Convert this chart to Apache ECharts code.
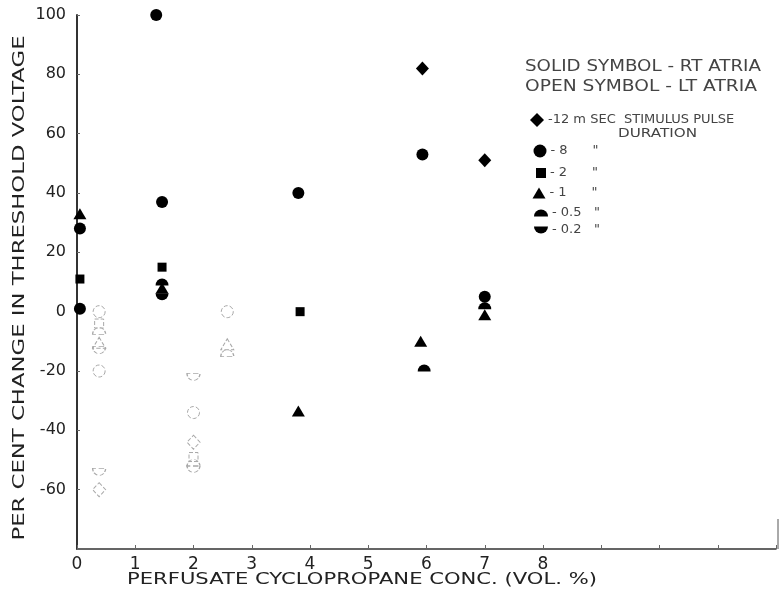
<!DOCTYPE html>
<html><head><meta charset="utf-8">
<script src="https://cdn.jsdelivr.net/npm/echarts@6/dist/echarts.min.js"></script>
<style>html,body{margin:0;padding:0;background:#fff}#c{width:779px;height:598px}</style>
</head><body><div id="c"></div>
<script>
// ---- tick labels ----
const xTickLabels = ['0','1','2','3','4','5','6','7','8'];
const yTickLabels = ['-60','-40','-20','0','20','40','60','80','100'];
// ---- legend / series names ----
const durationNames = ['12 msec','8 msec','2 msec','1 msec','0.5 msec','0.2 msec'];
const legendTexts = ['-12 m SEC  STIMULUS PULSE','- 8      "','- 2      "','- 1      "','- 0.5   "','- 0.2   "'];
// ---- solid symbols: right atria [conc %, % change] ----
const rtDiamond12 = [[5.93, 82], [7.0, 51]];
const rtCircle8   = [[0.05, 28], [0.05, 1], [1.36, 100], [1.46, 37], [3.8, 40], [5.93, 53], [7.0, 5]];
const rtSquare2   = [[0.05, 11], [1.46, 15], [3.83, 0]];
const rtTriangle1 = [[0.05, 33], [1.46, 8], [3.8, -33.5], [5.9, -10], [7.0, -1]];
const rtDome05    = [[1.46, 10], [5.96, -19], [7.0, 2]];
const rtBowl02    = [[1.46, 5]];
// ---- open symbols: left atria ----
const ltDiamond12 = [[0.38, -60], [2.0, -44]];
const ltCircle8   = [[0.38, 0], [0.38, -20], [2.0, -34], [2.58, 0]];
const ltSquare2   = [[0.38, -4], [2.0, -49]];
const ltTriangle1 = [[0.38, -10.5], [2.58, -11]];
const ltDome05    = [[0.38, -6.5], [2.0, -51], [2.58, -14]];
const ltBowl02    = [[0.38, -13], [0.38, -54], [2.0, -22], [2.0, -53]];

const DOME = 'path://M0,10A10,10 0 0 1 20,10Z';
const BOWL = 'path://M0,0A10,10 0 0 0 20,0Z';
const FONT = "'DejaVu Sans', sans-serif";

const shapes = [
  {sym:'diamond', size:[13,14], lsize:[14,14], rt:rtDiamond12, lt:ltDiamond12},
  {sym:'circle', size:12, lsize:[13,13], rt:rtCircle8, lt:ltCircle8},
  {sym:'rect', size:9, lsize:[10,10], rt:rtSquare2, lt:ltSquare2},
  {sym:'triangle', size:[13,11], lsize:[13,11], rt:rtTriangle1, lt:ltTriangle1},
  {sym:DOME, size:[13,7], lsize:[14,7], rt:rtDome05, lt:ltDome05},
  {sym:BOWL, size:[13,7], lsize:[14,7], rt:rtBowl02, lt:ltBowl02}
];
const legendRowY = [120, 151, 173, 193, 213, 230];
const legendRowX = [537, 540, 541, 539, 541, 541];

const series = [];
shapes.forEach((s, i) => {
  series.push({name: durationNames[i], type:'scatter', data: s.rt, symbol: s.sym, symbolSize: s.size,
    itemStyle:{color:'#000', opacity:1}, z:3});
  series.push({name: 'LT ' + durationNames[i], type:'scatter', data: s.lt, symbol: s.sym, symbolSize: s.size,
    itemStyle:{color:'rgba(0,0,0,0)', borderColor:'#a8a8a8', borderWidth:1, borderType:'dashed', opacity:1}, z:2});
});

const legends = shapes.map((s, i) => ({
  data:[durationNames[i]], selectedMode:false, orient:'horizontal',
  left: legendRowX[i] - s.lsize[0]/2, top: legendRowY[i] - 7,
  itemWidth: s.lsize[0], itemHeight: s.lsize[1], itemGap: 0, padding: 0,
  formatter: () => legendTexts[i],
  textStyle:{fontFamily:FONT, fontSize:13, color:'#444', lineHeight:14, padding:[0,0,0,-1]}
}));

function fitScale(text, font, target){
  const c = document.createElement('canvas').getContext('2d');
  c.font = font; return target / c.measureText(text).width;
}
function stretchText(text, cx, cy, target, size, rot, align, fill){
  const font = size + 'px ' + FONT;
  const a = align || 'center';
  return {type:'text', x:cx, y:cy, rotation: rot || 0, scaleX: fitScale(text, font, target), silent:true,
    style:{text:text, font:font, fill: fill || '#222', textAlign:a, align:a, textVerticalAlign:'middle', verticalAlign:'middle'}};
}

const chart = echarts.init(document.getElementById('c'), null, {renderer:'canvas'});
chart.setOption({
  animation:false,
  backgroundColor:'#fff',
  grid:{left:77, right:0, top:15, bottom:49, containLabel:false},
  xAxis:{type:'value', min:0, max:12, interval:1,
    axisLine:{show:true, onZero:false, lineStyle:{color:'#333', width:1.5}},
    axisTick:{show:true, inside:true, length:4, lineStyle:{color:'#666'}},
    splitLine:{show:false},
    axisLabel:{margin:7, fontFamily:FONT, fontSize:17, color:'#222',
      formatter: v => xTickLabels.includes(String(v)) ? String(v) : ''}},
  yAxis:{type:'value', min:-80, max:100, interval:20,
    axisLine:{show:true, onZero:false, lineStyle:{color:'#333', width:2}},
    axisTick:{show:true, inside:true, length:3, lineStyle:{color:'#666'}},
    splitLine:{show:false},
    axisLabel:{margin:11, fontFamily:FONT, fontSize:16, color:'#222',
      formatter: v => yTickLabels.includes(String(v)) ? String(v) : ''}},
  legend: legends,
  series: series,
  graphic: [
    stretchText('PER CENT CHANGE IN THRESHOLD VOLTAGE', 20, 288, 505, 15, Math.PI/2),
    stretchText('PERFUSATE CYCLOPROPANE CONC. (VOL. %)', 362, 580, 470, 15, 0),
    stretchText('SOLID SYMBOL - RT ATRIA', 525, 67, 236, 15, 0, 'left', '#444'),
    stretchText('OPEN SYMBOL - LT ATRIA', 525, 87, 232, 15, 0, 'left', '#444'),
    stretchText('DURATION', 618, 134, 79, 13, 0, 'left', '#444'),
    {type:'line', silent:true, shape:{x1:778, y1:519, x2:778, y2:549}, style:{stroke:'#555', lineWidth:1}}
  ]
});
</script></body></html>
